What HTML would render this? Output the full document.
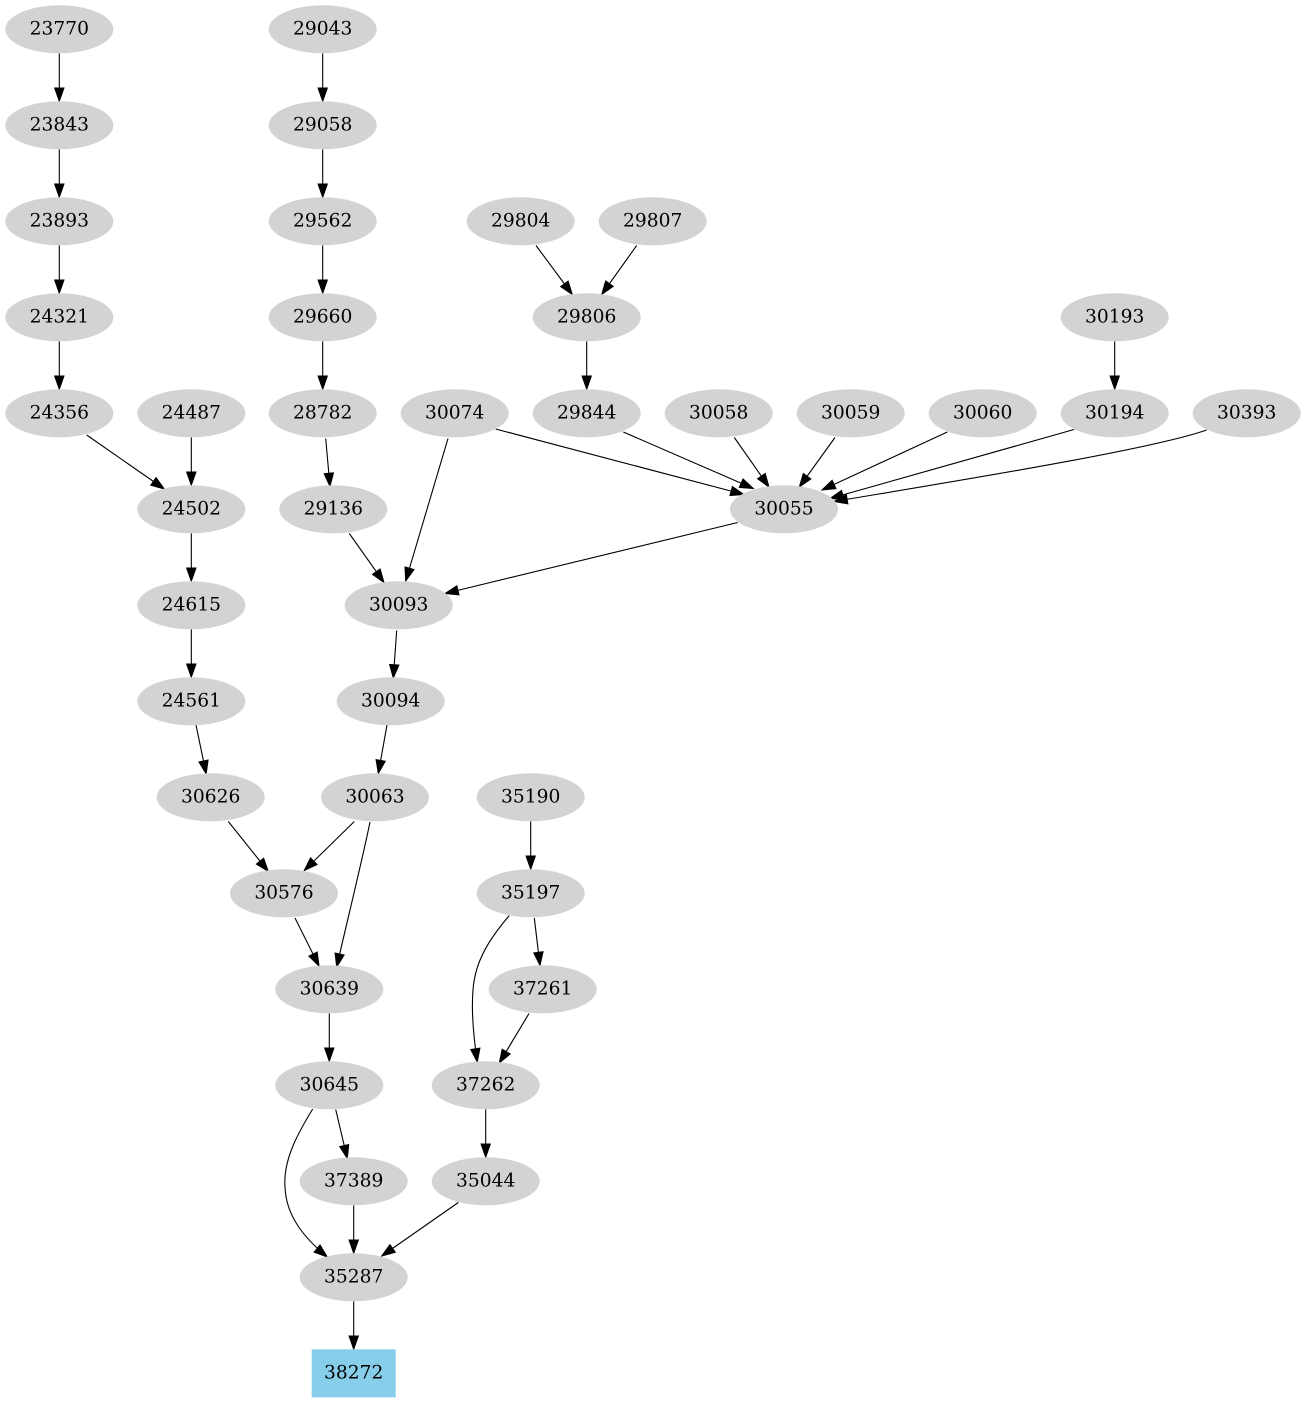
<!DOCTYPE html>
<html>
<head>
<meta charset="utf-8">
<style>
html,body{margin:0;padding:0;background:#fff;}
svg{display:block;}
text{font-family:"DejaVu Serif","Liberation Serif",serif;font-size:18.67px;fill:#000;text-anchor:middle;}
ellipse{fill:#d3d3d3;stroke:none;}
path.e{fill:none;stroke:#000;stroke-width:1.1;}
</style>
</head>
<body>
<svg width="1306" height="1403" viewBox="0 0 1306 1403" xmlns="http://www.w3.org/2000/svg">
<defs>
<marker id="a" markerUnits="userSpaceOnUse" markerWidth="15" markerHeight="11" refX="13.3" refY="4.67" orient="auto" overflow="visible">
<path d="M0,0 L13.3,4.67 L0,9.33 Z" fill="#000" stroke="#000" stroke-width="1"/>
</marker>
</defs>

<g marker-end="url(#a)">
<path class="e" d="M59.3,53.3 L59.3,101.3"/>
<path class="e" d="M59.3,149.3 L59.3,197.3"/>
<path class="e" d="M59.3,245.3 L59.3,293.3"/>
<path class="e" d="M59.3,341.3 L59.3,389.3"/>
<path class="e" d="M86.7,435 L164.3,489"/>
<path class="e" d="M191.3,437.3 L191.3,485.3"/>
<path class="e" d="M191.3,533.3 L191.3,581.3"/>
<path class="e" d="M191.3,629.3 L191.3,677.3"/>
<path class="e" d="M196,725 L206.2,774"/>
<path class="e" d="M228.3,821.5 L268.3,871.5"/>
<path class="e" d="M354.3,821.5 L304.3,870.5"/>
<path class="e" d="M370,822 C363,857 345,930 336.7,967"/>
<path class="e" d="M295,918 L319,966"/>
<path class="e" d="M329.3,1013.3 L329.3,1061.3"/>
<path class="e" d="M335.7,1109.5 L347.3,1158.5"/>
<path class="e" d="M312.7,1109 C298,1133 283,1160 285,1187 C286,1215 303,1237 327.3,1257"/>
<path class="e" d="M353.7,1205.3 L353.7,1253.3"/>
<path class="e" d="M458.3,1202.5 L381.7,1256"/>
<path class="e" d="M353.7,1301.3 L353.7,1349.3"/>
<path class="e" d="M485.7,1109.3 L485.7,1157.3"/>
<path class="e" d="M530.7,821.3 L530.7,869.3"/>
<path class="e" d="M534.3,918 L540,965.5"/>
<path class="e" d="M509.3,915.5 C491,937 475,960 473,990 C471,1014 474,1040 477.3,1062"/>
<path class="e" d="M529,1013.5 L499.3,1063"/>
<path class="e" d="M322.7,53.3 L322.7,101.3"/>
<path class="e" d="M322.7,149.3 L322.7,197.3"/>
<path class="e" d="M322.7,245.3 L322.7,293.3"/>
<path class="e" d="M322.7,341.3 L322.7,389.3"/>
<path class="e" d="M325.7,438.5 L330,486.5"/>
<path class="e" d="M349.3,533.5 L384,582.5"/>
<path class="e" d="M448,438.5 L405.7,581"/>
<path class="e" d="M737.7,522.5 L445,593.5"/>
<path class="e" d="M396.7,630.5 L393.3,678"/>
<path class="e" d="M387,725 L378.3,773.5"/>
<path class="e" d="M536,245.5 L572.3,294.5"/>
<path class="e" d="M636.7,245.5 L601.7,294.5"/>
<path class="e" d="M586.7,341.3 L586.7,389.3"/>
<path class="e" d="M495.7,429 L744,494.5"/>
<path class="e" d="M623.3,432 L753.3,488.5"/>
<path class="e" d="M734.3,437.5 L769,487"/>
<path class="e" d="M835,437.5 L799.3,487"/>
<path class="e" d="M947.3,432 L822,490"/>
<path class="e" d="M1074,429.5 L830,498.5"/>
<path class="e" d="M1206.7,430 C1150,450 950,482 834,501.5"/>
<path class="e" d="M1114.7,341.3 L1114.7,389.3"/>
</g>

<g>
<ellipse cx="59.3" cy="29.3" rx="54" ry="24"/><text x="59.3" y="34.3">23770</text>
<ellipse cx="59.3" cy="125.3" rx="54" ry="24"/><text x="59.3" y="130.3">23843</text>
<ellipse cx="59.3" cy="221.3" rx="54" ry="24"/><text x="59.3" y="226.3">23893</text>
<ellipse cx="59.3" cy="317.3" rx="54" ry="24"/><text x="59.3" y="322.3">24321</text>
<ellipse cx="59.3" cy="413.3" rx="54" ry="24"/><text x="59.3" y="418.3">24356</text>
<ellipse cx="322.7" cy="29.3" rx="54" ry="24"/><text x="322.7" y="34.3">29043</text>
<ellipse cx="322.7" cy="125.3" rx="54" ry="24"/><text x="322.7" y="130.3">29058</text>
<ellipse cx="322.7" cy="221.3" rx="54" ry="24"/><text x="322.7" y="226.3">29562</text>
<ellipse cx="322.7" cy="317.3" rx="54" ry="24"/><text x="322.7" y="322.3">29660</text>
<ellipse cx="322.7" cy="413.3" rx="54" ry="24"/><text x="322.7" y="418.3">28782</text>
<ellipse cx="520.7" cy="221.3" rx="54" ry="24"/><text x="520.7" y="226.3">29804</text>
<ellipse cx="652.7" cy="221.3" rx="54" ry="24"/><text x="652.7" y="226.3">29807</text>
<ellipse cx="586.7" cy="317.3" rx="54" ry="24"/><text x="586.7" y="322.3">29806</text>
<ellipse cx="1114.7" cy="317.3" rx="54" ry="24"/><text x="1114.7" y="322.3">30193</text>
<ellipse cx="191.3" cy="413.3" rx="54" ry="24"/><text x="191.3" y="418.3">24487</text>
<ellipse cx="454.7" cy="413.3" rx="54" ry="24"/><text x="454.7" y="418.3">30074</text>
<ellipse cx="586.7" cy="413.3" rx="54" ry="24"/><text x="586.7" y="418.3">29844</text>
<ellipse cx="718.7" cy="413.3" rx="54" ry="24"/><text x="718.7" y="418.3">30058</text>
<ellipse cx="850.7" cy="413.3" rx="54" ry="24"/><text x="850.7" y="418.3">30059</text>
<ellipse cx="982.7" cy="413.3" rx="54" ry="24"/><text x="982.7" y="418.3">30060</text>
<ellipse cx="1114.7" cy="413.3" rx="54" ry="24"/><text x="1114.7" y="418.3">30194</text>
<ellipse cx="1246.7" cy="413.3" rx="54" ry="24"/><text x="1246.7" y="418.3">30393</text>
<ellipse cx="191.3" cy="509.3" rx="54" ry="24"/><text x="191.3" y="514.3">24502</text>
<ellipse cx="333.3" cy="509.3" rx="54" ry="24"/><text x="333.3" y="514.3">29136</text>
<ellipse cx="784" cy="509.3" rx="54" ry="24"/><text x="784" y="514.3">30055</text>
<ellipse cx="191.3" cy="605.3" rx="54" ry="24"/><text x="191.3" y="610.3">24615</text>
<ellipse cx="398.7" cy="605.3" rx="54" ry="24"/><text x="398.7" y="610.3">30093</text>
<ellipse cx="191.3" cy="701.3" rx="54" ry="24"/><text x="191.3" y="706.3">24561</text>
<ellipse cx="390.7" cy="701.3" rx="54" ry="24"/><text x="390.7" y="706.3">30094</text>
<ellipse cx="210.7" cy="797.3" rx="54" ry="24"/><text x="210.7" y="802.3">30626</text>
<ellipse cx="375" cy="797.3" rx="54" ry="24"/><text x="375" y="802.3">30063</text>
<ellipse cx="530.7" cy="797.3" rx="54" ry="24"/><text x="530.7" y="802.3">35190</text>
<ellipse cx="284" cy="893.3" rx="54" ry="24"/><text x="284" y="898.3">30576</text>
<ellipse cx="530.7" cy="893.3" rx="54" ry="24"/><text x="530.7" y="898.3">35197</text>
<ellipse cx="329.3" cy="989.3" rx="54" ry="24"/><text x="329.3" y="994.3">30639</text>
<ellipse cx="542.7" cy="989.3" rx="54" ry="24"/><text x="542.7" y="994.3">37261</text>
<ellipse cx="329.3" cy="1085.3" rx="54" ry="24"/><text x="329.3" y="1090.3">30645</text>
<ellipse cx="485.7" cy="1085.3" rx="54" ry="24"/><text x="485.7" y="1090.3">37262</text>
<ellipse cx="353.7" cy="1181.3" rx="54" ry="24"/><text x="353.7" y="1186.3">37389</text>
<ellipse cx="485.7" cy="1181.3" rx="54" ry="24"/><text x="485.7" y="1186.3">35044</text>
<ellipse cx="353.7" cy="1277.3" rx="54" ry="24"/><text x="353.7" y="1282.3">35287</text>
<rect x="311.7" y="1349.3" width="84" height="48" fill="#87ceeb"/><text x="353.7" y="1378.3">38272</text>
</g>
</svg>
</body>
</html>
